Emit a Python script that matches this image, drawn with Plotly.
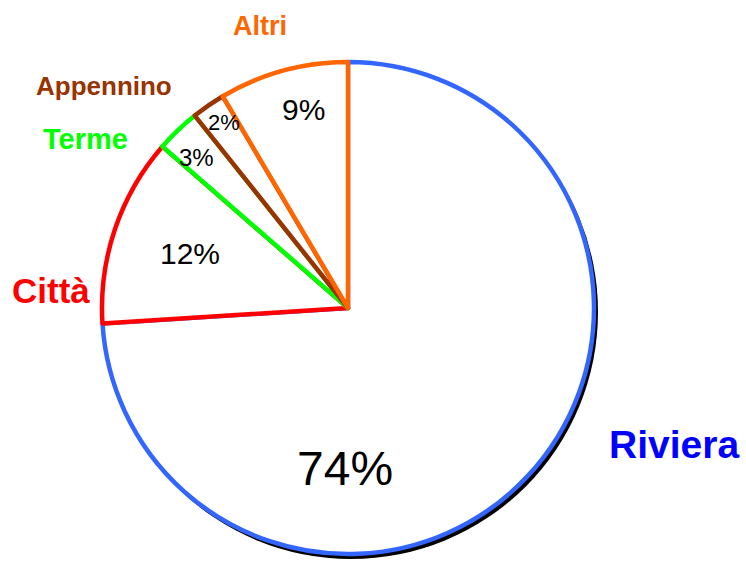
import plotly.graph_objects as go

# Data
categories = ["Riviera", "Città", "Terme", "Appennino", "Altri"]
values = [74.0, 12.4, 2.9, 2.2, 8.5]
pct_labels = ["74%", "12%", "3%", "2%", "9%"]

# Styles
line_colors = ["#3366FF", "#FF0000", "#00FF00", "#993300", "#FF6600"]
label_colors = ["#0000FF", "#FF0000", "#00FF00", "#993300", "#FF6600"]
label_sizes = [39, 35, 29, 26, 27]
label_pos = [(674, 444), (51, 290), (85, 139), (104, 86), (260, 26)]
pct_sizes = [48, 30, 24, 22, 30]
pct_pos = [(345, 468), (190, 254), (196, 157), (224, 122), (303, 110)]

W, H = 746, 568
cx, cy, r = 348, 308, 246


def dom(cx_, cy_, r_):
    return dict(x=[(cx_ - r_) / W, (cx_ + r_) / W],
                y=[1 - (cy_ + r_) / H, 1 - (cy_ - r_) / H])


fig = go.Figure()
# shadow
fig.add_trace(go.Pie(values=[1], labels=["shadow"], sort=False,
                     marker=dict(colors=["#000000"], line=dict(width=0)),
                     textinfo="none", hoverinfo="skip", showlegend=False,
                     domain=dom(cx + 3, cy + 4, r + 1)))
fig.add_trace(go.Pie(values=values, labels=categories, sort=False,
                     direction="clockwise", rotation=0,
                     marker=dict(colors=["#FFFFFF"] * 5,
                                 line=dict(color=line_colors, width=4.5)),
                     textinfo="none", showlegend=False,
                     domain=dom(cx, cy, r)))

for cat, col, sz, (x, y) in zip(categories, label_colors, label_sizes, label_pos):
    fig.add_annotation(x=x / W, y=1 - y / H, xref="paper", yref="paper",
                       text=f"<b>{cat}</b>", showarrow=False,
                       xanchor="center", yanchor="middle",
                       font=dict(family="Liberation Sans, Arial", size=sz, color=col))

for t, sz, (x, y) in zip(pct_labels, pct_sizes, pct_pos):
    fig.add_annotation(x=x / W, y=1 - y / H, xref="paper", yref="paper",
                       text=t, showarrow=False,
                       xanchor="center", yanchor="middle",
                       font=dict(family="Liberation Sans, Arial", size=sz, color="#000000"))

fig.update_layout(width=W, height=H, margin=dict(l=0, r=0, t=0, b=0),
                  paper_bgcolor="white", plot_bgcolor="white")

fig.write_html("out.html", config={"displayModeBar": False},
               post_script="document.body.style.margin='0';document.body.style.overflow='hidden';")
